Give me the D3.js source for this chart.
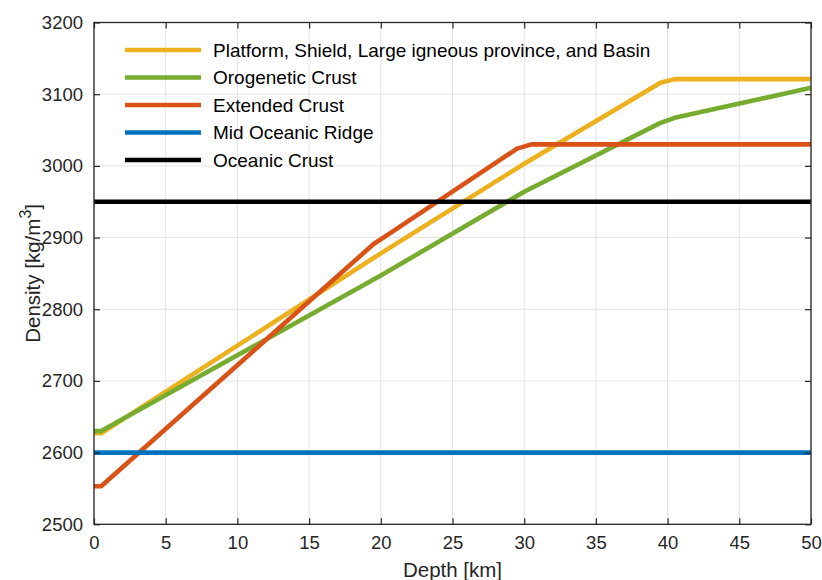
<!DOCTYPE html>
<html>
<head>
<meta charset="utf-8">
<script src="https://cdn.jsdelivr.net/npm/d3@7"></script>
<style>
  html, body { margin: 0; padding: 0; background: #fff; }
  svg { display: block; font-family: "Liberation Sans", Arial, Helvetica, sans-serif; }
</style>
</head>
<body>
<svg id="chart" width="822" height="580"></svg>
<script>
// ---- data ----
const seriesNames = [
  "Platform, Shield, Large igneous province, and Basin",
  "Orogenetic Crust",
  "Extended Crust",
  "Mid Oceanic Ridge",
  "Oceanic Crust"
];
const seriesColors = ["#EDB120", "#77AC30", "#D95319", "#0072BD", "#000000"];

const platformDepth   = [0, 0.5, 20, 30, 39.5, 40.5, 50];
const platformDensity = [2627, 2627, 2878, 3003, 3116, 3121, 3121];

const orogenDepth   = [0, 0.5, 20, 30, 39.5, 40.5, 50];
const orogenDensity = [2630, 2630, 2847, 2964, 3060, 3067, 3109];

const extendedDepth   = [0, 0.5, 19.5, 20.5, 29.5, 30.5, 50];
const extendedDensity = [2553, 2553, 2891, 2904, 3024, 3030, 3030];

const ridgeDepth   = [0, 50];
const ridgeDensity = [2600, 2600];

const oceanicDepth   = [0, 50];
const oceanicDensity = [2950, 2950];

const xTicks = [0, 5, 10, 15, 20, 25, 30, 35, 40, 45, 50];
const yTicks = [2500, 2600, 2700, 2800, 2900, 3000, 3100, 3200];

// ---- layout ----
const svg = d3.select("#chart");
const pL = 94, pR = 811, pT = 22.5, pB = 524.3;
const x = d3.scaleLinear().domain([0, 50]).range([pL, pR]);
const y = d3.scaleLinear().domain([2500, 3200]).range([pB, pT]);
const axisColor = "#262626";

// grid
const grid = svg.append("g");
grid.selectAll(".gx").data(xTicks).enter().append("line")
  .attr("x1", d => x(d)).attr("x2", d => x(d)).attr("y1", pT).attr("y2", pB)
  .attr("stroke", "#e3e3e3").attr("stroke-width", 1);
grid.selectAll(".gy").data(yTicks).enter().append("line")
  .attr("y1", d => y(d)).attr("y2", d => y(d)).attr("x1", pL).attr("x2", pR)
  .attr("stroke", "#e3e3e3").attr("stroke-width", 1);

// series
const series = [
  [platformDepth, platformDensity],
  [orogenDepth, orogenDensity],
  [extendedDepth, extendedDensity],
  [ridgeDepth, ridgeDensity],
  [oceanicDepth, oceanicDensity]
];
const line = d3.line().x(d => x(d[0])).y(d => y(d[1]));
series.forEach((s, i) => {
  const pts = s[0].map((d, j) => [d, s[1][j]]);
  svg.append("path").datum(pts)
    .attr("d", line)
    .attr("fill", "none")
    .attr("stroke", seriesColors[i])
    .attr("stroke-width", 4.6)
    .attr("stroke-linejoin", "round");
});

// axes
const tickLen = 6;
const fmt = d3.format("d");
const xAxisB = d3.axisBottom(x).tickValues(xTicks).tickFormat(fmt).tickSizeInner(-tickLen).tickSizeOuter(0).tickPadding(12);
const xAxisT = d3.axisTop(x).tickValues(xTicks).tickSizeInner(-tickLen).tickSizeOuter(0).tickFormat("");
const yAxisL = d3.axisLeft(y).tickValues(yTicks).tickFormat(fmt).tickSizeInner(-tickLen).tickSizeOuter(0).tickPadding(11);
const yAxisR = d3.axisRight(y).tickValues(yTicks).tickSizeInner(-tickLen).tickSizeOuter(0).tickFormat("");

function styleAxis(g) {
  g.select(".domain").remove();
  g.selectAll(".tick line").attr("stroke", axisColor).attr("stroke-width", 1.2);
  g.selectAll(".tick text").attr("fill", axisColor).style("font-size", "18.5px")
    .style("font-family", "'Liberation Sans', Arial, sans-serif");
}
svg.append("g").attr("transform", `translate(0,${pB})`).call(xAxisB).call(styleAxis);
svg.append("g").attr("transform", `translate(0,${pT})`).call(xAxisT).call(styleAxis);
svg.append("g").attr("transform", `translate(${pL},0)`).call(yAxisL).call(styleAxis);
svg.append("g").attr("transform", `translate(${pR},0)`).call(yAxisR).call(styleAxis);

// box
svg.append("rect").attr("x", pL).attr("y", pT).attr("width", pR - pL).attr("height", pB - pT)
  .attr("fill", "none").attr("stroke", axisColor).attr("stroke-width", 1.3);

// axis labels
svg.append("text").attr("x", (pL + pR) / 2).attr("y", 577)
  .attr("text-anchor", "middle").attr("fill", axisColor).style("font-size", "20.5px")
  .text("Depth [km]");
const yl = svg.append("text")
  .attr("transform", `translate(40,${(pT + pB) / 2}) rotate(-90)`)
  .attr("text-anchor", "middle").attr("fill", axisColor).style("font-size", "20.5px");
yl.append("tspan").text("Density [kg/m");
yl.append("tspan").attr("dy", -9).style("font-size", "16px").text("3");
yl.append("tspan").attr("dy", 9).text("]");

// legend
const legY0 = 50, legDy = 27.5;
const leg = svg.append("g");
seriesNames.forEach((name, i) => {
  const yy = legY0 + i * legDy;
  leg.append("line").attr("x1", 125).attr("x2", 201).attr("y1", yy).attr("y2", yy)
    .attr("stroke", seriesColors[i]).attr("stroke-width", 4.6);
  leg.append("text").attr("x", 213).attr("y", yy).attr("dy", "0.35em")
    .attr("fill", "#000").style("font-size", "19px").text(name);
});
</script>
</body>
</html>
